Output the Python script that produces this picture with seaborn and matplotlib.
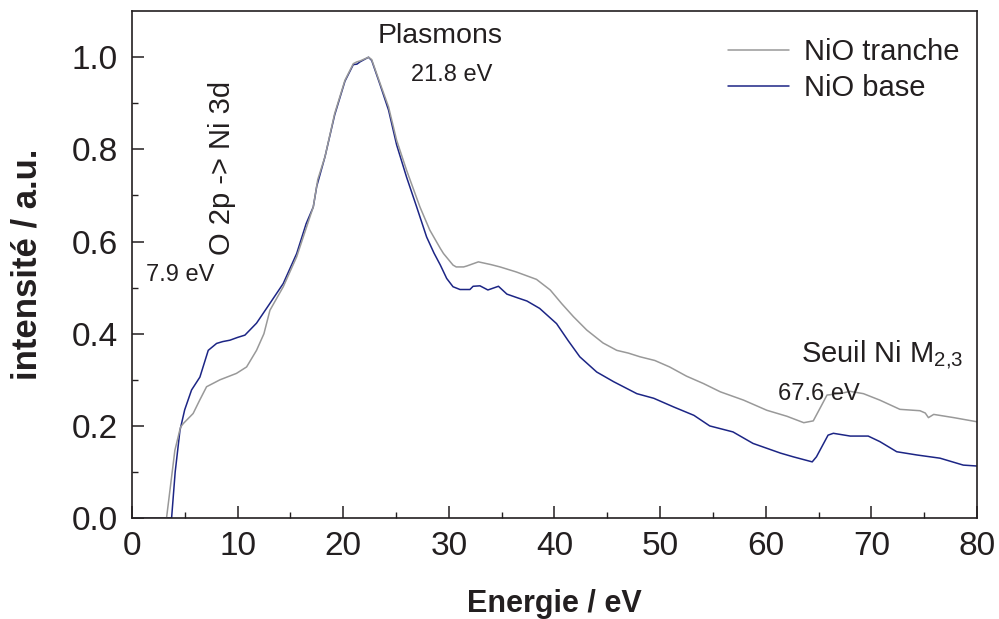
import numpy as np
import pandas as pd
import matplotlib
matplotlib.use("Agg")
import matplotlib.pyplot as plt
import seaborn as sns

# NiO tranche (grey curve)
tranche_x = [0, 3.28, 4.07, 4.6, 4.86, 5.8, 6.4, 7.07, 8.33, 9.9, 10.86, 11.8, 12.5, 13.07,
             14.33, 15.6, 16.86, 17.17, 17.6, 18.28, 19.2, 20.17, 20.96, 21.3, 21.6, 22.0,
             22.4, 22.7, 23.5, 24.3, 25.06, 26.0, 27.27, 28.2, 29.2, 29.5, 30.4, 30.7, 31.4,
             31.7, 32.8, 34.0, 34.85, 36.4, 38.3, 39.6, 40.7, 41.8, 43.06, 44.6, 45.9, 47.0,
             48.1, 49.5, 50.9, 52.5, 54.1, 55.7, 57.9, 60.1, 62.0, 63.6, 64.5, 65.2, 65.8,
             67.0, 68.0, 69.25, 70.8, 72.7, 74.6, 75.1, 75.4, 75.9, 77.8, 80.0]
tranche_y = [0, 0, 0.147, 0.197, 0.205, 0.227, 0.255, 0.285, 0.30, 0.314, 0.328, 0.364, 0.40,
             0.451, 0.502, 0.567, 0.654, 0.675, 0.735, 0.784, 0.878, 0.95, 0.986, 0.99, 0.992,
             0.996, 1.0, 0.995, 0.943, 0.892, 0.82, 0.755, 0.675, 0.625, 0.585, 0.574, 0.549,
             0.545, 0.545, 0.547, 0.556, 0.55, 0.545, 0.534, 0.518, 0.495, 0.465, 0.437, 0.408,
             0.38, 0.364, 0.358, 0.35, 0.342, 0.328, 0.308, 0.292, 0.274, 0.256, 0.234, 0.221,
             0.207, 0.211, 0.241, 0.267, 0.27, 0.275, 0.27, 0.256, 0.236, 0.233, 0.228, 0.218,
             0.225, 0.218, 0.209]

# NiO base (blue curve)
base_x = [0, 3.76, 4.1, 4.55, 5.0, 5.65, 6.44, 7.23, 8.02, 8.6, 9.28, 10.0, 10.7, 11.8, 13.07,
          14.33, 15.6, 16.5, 17.17, 17.5, 18.28, 19.2, 20.17, 20.96, 21.3, 21.6, 22.0, 22.4,
          22.7, 23.5, 24.3, 25.06, 26.0, 26.96, 27.9, 28.6, 29.2, 29.8, 30.4, 31.06, 32.0,
          32.3, 32.95, 33.7, 34.7, 35.5, 36.5, 37.4, 38.6, 40.2, 41.3, 42.4, 44.0, 45.6, 47.8,
          49.4, 51.3, 53.2, 54.7, 56.9, 58.8, 61.4, 62.6, 64.4, 64.8, 65.9, 66.4, 68.0, 69.7,
          70.8, 72.4, 74.3, 76.5, 78.7, 80.0]
base_y = [0, 0, 0.1, 0.19, 0.235, 0.278, 0.306, 0.364, 0.379, 0.383, 0.386, 0.392, 0.397,
          0.423, 0.466, 0.509, 0.574, 0.639, 0.675, 0.72, 0.784, 0.875, 0.948, 0.984, 0.985,
          0.99, 0.995, 1.0, 0.993, 0.94, 0.885, 0.81, 0.74, 0.675, 0.61, 0.575, 0.549, 0.52,
          0.502, 0.496, 0.496, 0.503, 0.504, 0.495, 0.503, 0.486, 0.478, 0.471, 0.455, 0.422,
          0.385, 0.35, 0.317, 0.296, 0.27, 0.26, 0.241, 0.223, 0.2, 0.187, 0.162, 0.141,
          0.133, 0.122, 0.133, 0.18, 0.184, 0.178, 0.178, 0.166, 0.144, 0.137, 0.13, 0.115,
          0.113]

x_ticks = [0, 10, 20, 30, 40, 50, 60, 70, 80]
y_ticks = [0.0, 0.2, 0.4, 0.6, 0.8, 1.0]

sns.set_style("ticks")
plt.rcParams['font.family'] = ['Liberation Sans', 'DejaVu Sans']
plt.rcParams['mathtext.fontset'] = 'custom'
plt.rcParams['mathtext.rm'] = 'Liberation Sans'
plt.rcParams['mathtext.it'] = 'Liberation Sans'

ink = "#231f20"
grey = "#999999"
blue = "#1c2585"

df_t = pd.DataFrame({"E": tranche_x, "I": tranche_y})
df_b = pd.DataFrame({"E": base_x, "I": base_y})

fig, ax = plt.subplots(figsize=(9.99, 6.19), dpi=100)
fig.subplots_adjust(left=0.132, right=0.978, bottom=0.163, top=0.982)

# blue first so the grey curve sits on top, as in the original
sns.lineplot(data=df_b, x="E", y="I", ax=ax, color=blue, lw=1.1, estimator=None, label="NiO base")
sns.lineplot(data=df_t, x="E", y="I", ax=ax, color=grey, lw=1.1, estimator=None, label="NiO tranche")

ax.set_xlim(0, 80)
ax.set_ylim(0, 1.1)
ax.set_xticks(x_ticks)
ax.set_yticks(y_ticks)
ax.set_xticklabels([str(v) for v in x_ticks])
ax.set_yticklabels([f"{v:.1f}" for v in y_ticks])
ax.set_xticks(np.arange(5, 80, 10), minor=True)
ax.set_yticks(np.arange(0.1, 1.1, 0.2), minor=True)
ax.tick_params(which="major", direction="in", length=8.5, width=1.1, color=ink,
               labelsize=24, labelcolor=ink)
ax.tick_params(axis="x", which="major", pad=9)
ax.tick_params(axis="y", which="major", pad=10)
ax.tick_params(which="minor", direction="in", length=4.3, width=1.0, color=ink)
for s in ax.spines.values():
    s.set_color(ink)
    s.set_linewidth(1.2)

ax.set_xlabel("Energie / eV", fontsize=22, fontweight="bold", color=ink, labelpad=20)
ax.set_ylabel("intensité / a.u.", fontsize=25, fontweight="bold", color=ink, labelpad=20)

ax.text(29.2, 1.045, "Plasmons", fontsize=20.5, color=ink, ha="center", va="center")
ax.text(30.3, 0.961, "21.8 eV", fontsize=17, color=ink, ha="center", va="center")
ax.text(8.5, 0.76, "O 2p -> Ni 3d", fontsize=21, color=ink, ha="center", va="center",
        rotation=90)
ax.text(4.6, 0.527, "7.9 eV", fontsize=17, color=ink, ha="center", va="center")
ax.text(63.3, 0.354, "Seuil Ni M$_{2{,}3}$", fontsize=21, color=ink, ha="left", va="center")
ax.text(65.0, 0.27, "67.6 eV", fontsize=17, color=ink, ha="center", va="center")

handles, labels = ax.get_legend_handles_labels()
ax.legend(handles[::-1], labels[::-1], loc="upper left", bbox_to_anchor=(0.705, 0.947),
          frameon=False, fontsize=21, handlelength=2.1, handletextpad=0.5,
          labelspacing=0.28, borderpad=0, borderaxespad=0, labelcolor=ink)

fig.savefig("out.png", dpi=100)
